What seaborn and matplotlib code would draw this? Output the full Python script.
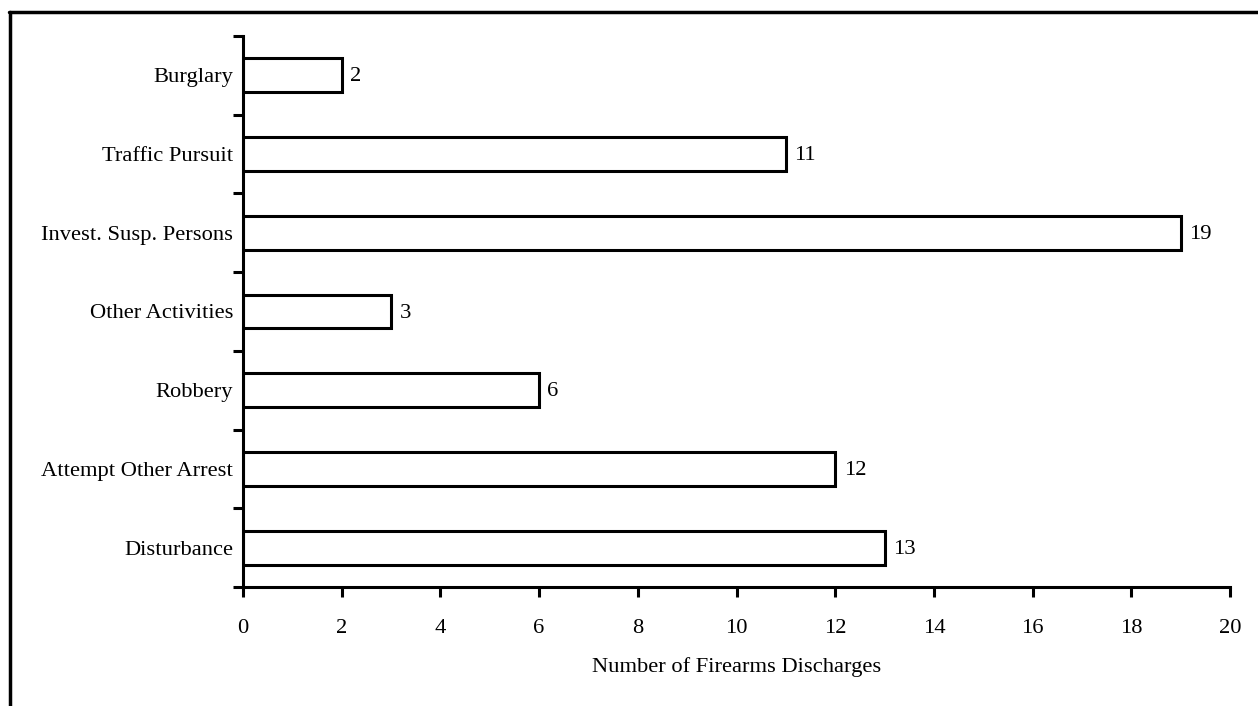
import matplotlib
matplotlib.use("Agg")
import matplotlib.pyplot as plt
import numpy as np
import pandas as pd
import seaborn as sns
from matplotlib.lines import Line2D

categories = ['Burglary', 'Traffic Pursuit', 'Invest. Susp. Persons', 'Other Activities',
              'Robbery', 'Attempt Other Arrest', 'Disturbance']
discharges = [2, 11, 19, 3, 6, 12, 13]
x_ticks = [0, 2, 4, 6, 8, 10, 12, 14, 16, 18, 20]

df = pd.DataFrame({'Category': categories, 'Discharges': discharges})

sns.set_theme(style='white')
plt.rcParams['font.family'] = ['Liberation Serif', 'DejaVu Serif']
plt.rcParams['text.color'] = 'black'
plt.rcParams['axes.labelcolor'] = 'black'
plt.rcParams['xtick.color'] = 'black'
plt.rcParams['ytick.color'] = 'black'
fs = 16.2

fig = plt.figure(figsize=(12.58, 7.06), dpi=100)
ax = fig.add_axes([243 / 1258, 1 - 587 / 706, (1230 - 243) / 1258, (587 - 36) / 706])

sns.barplot(data=df, y='Category', x='Discharges', order=categories, orient='h',
            color='white', edgecolor='black', linewidth=2.2, width=0.43, ax=ax)

for i, v in enumerate(discharges):
    ax.text(v + 0.17, i + 0.02, str(v), va='center', ha='left', fontsize=fs, color='black')

ax.set_xlim(0, 20)
ax.set_ylim(len(categories) - 0.5, -0.5)
ax.set_xticks(x_ticks)
ax.set_xticklabels([str(t) for t in x_ticks], fontsize=fs)

# category labels as minor ticks, boundary marks as major ticks
ax.set_yticks(np.arange(-0.5, len(categories), 1.0))
ax.set_yticklabels([])
ax.set_yticks(np.arange(len(categories)), minor=True)
ax.set_yticklabels(categories, minor=True, fontsize=fs)
ax.tick_params(axis='y', which='major', direction='out', length=7, width=2.2, left=True)
ax.tick_params(axis='y', which='minor', length=0, pad=7)
ax.tick_params(axis='x', direction='out', length=7, width=2.2, bottom=True, pad=16)

ax.set_xlabel('Number of Firearms Discharges', fontsize=fs, labelpad=14)
ax.set_ylabel('')

sns.despine(ax=ax)
for side in ['left', 'bottom']:
    ax.spines[side].set_linewidth(2.2)
    ax.spines[side].set_color('black')

# frame lines at top and left of the picture
fig.add_artist(Line2D([9 / 1258, 1], [1 - 12 / 706, 1 - 12 / 706], color='black', linewidth=2.5))
fig.add_artist(Line2D([10 / 1258, 10 / 1258], [0, 1 - 12 / 706], color='black', linewidth=2.5))

fig.savefig('out.png', dpi=100, facecolor='white')
